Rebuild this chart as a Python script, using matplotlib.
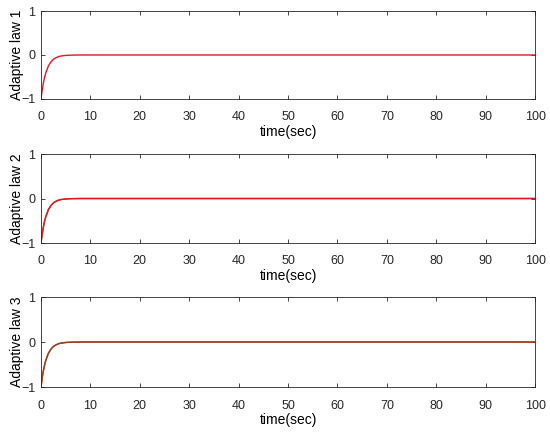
import matplotlib
matplotlib.use('Agg')
import matplotlib.pyplot as plt

# values (same response for the three laws)
t = [0, 0.25, 0.5, 0.75, 1, 1.5, 2, 2.5, 3, 3.5, 4, 5, 6, 8, 100]
law = [-1.0, -0.80, -0.63, -0.50, -0.40, -0.25, -0.16, -0.10, -0.065,
       -0.04, -0.025, -0.01, -0.004, 0.0, 0.0]

labels = ['Adaptive law 1', 'Adaptive law 2', 'Adaptive law 3']
line_colors = [['#e8151f'], ['#8b4a1a', '#e8151f'], ['#e8151f', '#8a4a1e']]
xticks = list(range(0, 101, 10))
yticks = [-1, 0, 1]

plt.rcParams['font.family'] = ['Liberation Sans', 'DejaVu Sans']

fig = plt.figure(figsize=(5.5, 4.32), dpi=100)
boxes = [[0.0745, 0.771, 0.8985, 0.2035],
         [0.0745, 0.4375, 0.8985, 0.206],
         [0.0745, 0.104, 0.8985, 0.2085]]
axcol = '#262626'

for box, lab, cols in zip(boxes, labels, line_colors):
    ax = fig.add_axes(box)
    for c in cols:
        ax.plot(t, law, color=c, lw=1.0)
    ax.set_xlim(0, 100)
    ax.set_ylim(-1, 1)
    ax.set_xticks(xticks)
    ax.set_yticks(yticks)
    ax.set_ylabel(lab, fontsize=10, labelpad=-2)
    ax.set_xlabel('time(sec)', fontsize=10, labelpad=1)
    ax.tick_params(direction='in', top=True, right=True, length=3,
                   width=0.6, colors=axcol, labelsize=9)
    ax.tick_params(axis='x', pad=9)
    ax.tick_params(axis='y', pad=4)
    for s in ax.spines.values():
        s.set_color(axcol)
        s.set_linewidth(0.6)

fig.savefig('out.png', dpi=100)
